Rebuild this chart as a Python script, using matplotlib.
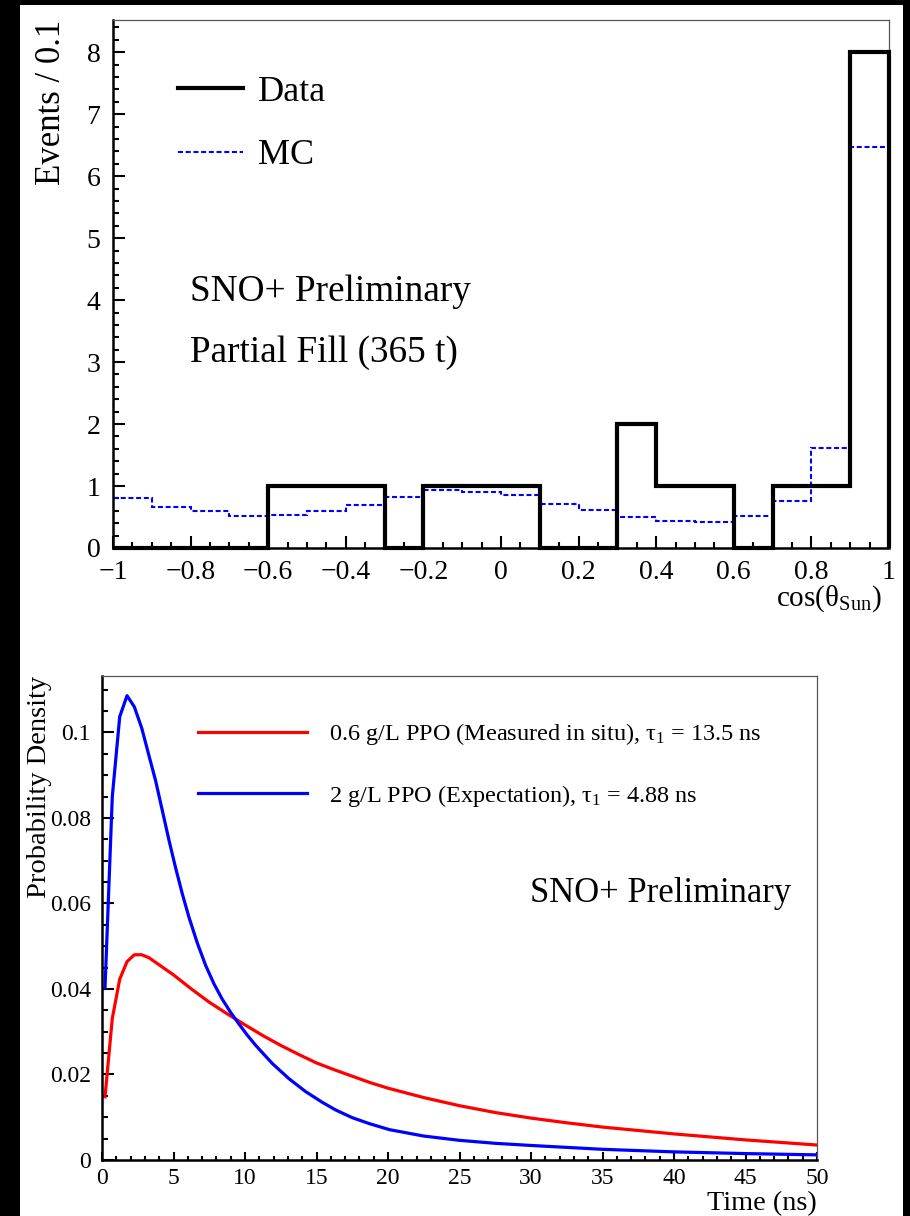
import matplotlib
matplotlib.use("Agg")
import matplotlib.pyplot as plt
from matplotlib.patches import Rectangle
from matplotlib.lines import Line2D
from matplotlib.ticker import MultipleLocator
import numpy as np

plt.rcParams['font.family'] = ['Liberation Serif', 'DejaVu Serif']
plt.rcParams['mathtext.fontset'] = 'custom'
plt.rcParams['mathtext.rm'] = 'Liberation Serif'
plt.rcParams['mathtext.it'] = 'Liberation Serif:italic'

# ---------------- top panel data ----------------
bin_edges = np.round(np.arange(-1.0, 1.0001, 0.1), 2)
data_counts = [0, 0, 0, 0, 1, 1, 1, 0, 1, 1, 1, 0, 0, 2, 1, 1, 0, 1, 1, 8]
mc_counts = [0.81, 0.66, 0.60, 0.51, 0.53, 0.60, 0.70, 0.82, 0.94, 0.90,
             0.86, 0.71, 0.61, 0.50, 0.43, 0.42, 0.52, 0.76, 1.61, 6.47]
top_xticks = [-1, -0.8, -0.6, -0.4, -0.2, 0, 0.2, 0.4, 0.6, 0.8, 1]
top_xticklabels = ['\u22121', '\u22120.8', '\u22120.6', '\u22120.4', '\u22120.2', '0',
                   '0.2', '0.4', '0.6', '0.8', '1']

# ---------------- bottom panel data ----------------
t_red = [0.21, 0.72, 1.24, 1.75, 2.26, 2.78, 3.29, 3.76, 5.0, 6.25, 7.5, 8.75,
         10.0, 11.25, 12.5, 13.75, 15.0, 16.25, 17.5, 18.75, 20.0, 22.5, 25.0,
         27.5, 30.0, 32.5, 35.0, 37.5, 40.0, 42.5, 45.0, 47.5, 50.0]
p_red = [0.0148, 0.0331, 0.0423, 0.0464, 0.0480, 0.0480, 0.0473, 0.0462, 0.0433,
         0.0400, 0.0369, 0.0342, 0.0316, 0.0291, 0.0268, 0.0247, 0.0227, 0.0211,
         0.0196, 0.0181, 0.0168, 0.0146, 0.0127, 0.0111, 0.0098, 0.0087, 0.0077,
         0.0069, 0.0061, 0.0054, 0.0047, 0.0041, 0.0035]
t_blue = [0.21, 0.72, 1.24, 1.75, 2.26, 2.78, 3.29, 3.75, 4.22, 4.69, 5.15, 5.62,
          6.08, 6.67, 7.25, 7.83, 8.41, 9.0, 9.58, 10.16, 10.75, 11.9, 13.08,
          14.24, 15.4, 16.34, 17.5, 18.7, 20.1, 22.5, 25.0, 27.5, 30.0, 35.0,
          40.0, 45.0, 50.0]
p_blue = [0.0402, 0.0850, 0.1037, 0.1086, 0.1060, 0.1010, 0.0945, 0.0887, 0.0817,
          0.0747, 0.0683, 0.0622, 0.0568, 0.0507, 0.0455, 0.0412, 0.0376, 0.0345,
          0.0318, 0.0292, 0.0268, 0.0226, 0.0190, 0.0160, 0.0135, 0.0117, 0.0099,
          0.0085, 0.0071, 0.0056, 0.0046, 0.0039, 0.0034, 0.0025, 0.0019, 0.0015,
          0.0012]
bot_xticks = [0, 5, 10, 15, 20, 25, 30, 35, 40, 45, 50]
bot_yticks = [0, 0.02, 0.04, 0.06, 0.08, 0.1]
bot_yticklabels = ['0', '0.02', '0.04', '0.06', '0.08', '0.1']
red_label = r"0.6 g/L PPO (Measured in situ), τ$_1$ = 13.5 ns"
blue_label = r"2 g/L PPO (Expectation), τ$_1$ = 4.88 ns"

W, H = 910, 1216
fig = plt.figure(figsize=(W / 100, H / 100), dpi=100, facecolor='black')
fig.patches.append(Rectangle((20 / W, 0), (903 - 20) / W, (H - 5) / H,
                             transform=fig.transFigure, facecolor='white',
                             edgecolor='none', zorder=-10))


def px_axes(l, t, r, b):
    return fig.add_axes([l / W, 1 - b / H, (r - l) / W, (b - t) / H])


def style_axes(ax):
    for s in ['top', 'right']:
        ax.spines[s].set_linewidth(0.9)
        ax.spines[s].set_color('#555555')
    for s in ['left', 'bottom']:
        ax.spines[s].set_linewidth(1.8)
        ax.spines[s].set_color('black')
    ax.tick_params(which='both', direction='in', top=False, right=False,
                   width=1.5, color='black')
    ax.tick_params(which='major', length=8.5)
    ax.tick_params(which='minor', length=4.3)


# ---------------- top panel ----------------
ax1 = px_axes(113, 20, 889, 548)
ax1.set_facecolor('white')
mc_style = (0, (2.4, 1.3))
ax1.stairs(mc_counts, bin_edges, baseline=None, color='#0000ff', lw=1.5,
           linestyle=mc_style, zorder=2)
ax1.stairs(data_counts, bin_edges, baseline=0, color='black', lw=3.0,
           clip_on=False, zorder=3)
ax1.set_xlim(-1, 1)
ax1.set_ylim(0, 8.52)
style_axes(ax1)
ax1.set_xticks(top_xticks)
ax1.set_xticklabels(top_xticklabels)
ax1.xaxis.set_minor_locator(MultipleLocator(0.05))
ax1.yaxis.set_major_locator(MultipleLocator(1))
ax1.yaxis.set_minor_locator(MultipleLocator(0.2))
ax1.tick_params(axis='both', labelsize=20)
ax1.tick_params(axis='x', pad=9)
ax1.tick_params(axis='y', pad=9)
ax1.set_ylabel('Events / 0.1', fontsize=25, loc='top')
ax1.yaxis.set_label_coords((68 - 113) / 776, 1.0)
ax1.set_xlabel(r"cos(θ$_{\mathrm{Sun}}$)", fontsize=21, loc='right')
ax1.xaxis.set_label_coords((882 - 113) / 776, -(583 - 548) / 528)

leg_handles = [Line2D([], [], color='black', lw=3.0),
               Line2D([], [], color='#0000ff', lw=1.5, linestyle=mc_style)]
ax1.legend(leg_handles, ['Data', 'MC'], loc='center left',
           bbox_to_anchor=((178 - 113) / 776, 1 - (124 - 20) / 528),
           frameon=False, fontsize=26, borderpad=0, borderaxespad=0,
           handlelength=1.8, handletextpad=0.42, labelspacing=0.83)
ax1.text((190 - 113) / 776, 1 - (292 - 20) / 528, 'SNO+ Preliminary',
         transform=ax1.transAxes, fontsize=26.8, va='center', ha='left')
ax1.text((190 - 113) / 776, 1 - (353 - 20) / 528, 'Partial Fill (365 t)',
         transform=ax1.transAxes, fontsize=26.8, va='center', ha='left')

# ---------------- bottom panel ----------------
ax2 = px_axes(102, 676, 817, 1160)
ax2.set_facecolor('white')
ax2.plot(t_red, p_red, color='#ff0000', lw=2.3, label=red_label)
ax2.plot(t_blue, p_blue, color='#0000ff', lw=2.3, label=blue_label)
ax2.set_xlim(0, 50)
ax2.set_ylim(0, 0.1132)
style_axes(ax2)
ax2.set_xticks(bot_xticks)
ax2.set_yticks(bot_yticks)
ax2.set_yticklabels(bot_yticklabels)
ax2.xaxis.set_minor_locator(MultipleLocator(1))
ax2.yaxis.set_minor_locator(MultipleLocator(0.005))
ax2.tick_params(axis='x', which='major', length=6)
ax2.tick_params(axis='x', which='minor', length=3)
ax2.tick_params(axis='both', labelsize=17)
ax2.tick_params(axis='x', pad=6)
ax2.tick_params(axis='y', pad=8)
ax2.set_ylabel('Probability Density', fontsize=20.5, loc='top')
ax2.yaxis.set_label_coords((52 - 102) / 715, 1.0)
ax2.set_xlabel('Time (ns)', fontsize=20.3, loc='right')
ax2.xaxis.set_label_coords(1.0, -(1191 - 1160) / 484)
ax2.legend(loc='center left',
           bbox_to_anchor=((198 - 102) / 715, 1 - (765 - 676) / 484),
           frameon=False, fontsize=17.5, borderpad=0, borderaxespad=0,
           handlelength=4.5, handletextpad=0.9, labelspacing=1.46)
ax2.text((530 - 102) / 715, 1 - (893 - 676) / 484, 'SNO+ Preliminary',
         transform=ax2.transAxes, fontsize=24.9, va='center', ha='left')

fig.savefig('out.png', dpi=100, facecolor=fig.get_facecolor())
